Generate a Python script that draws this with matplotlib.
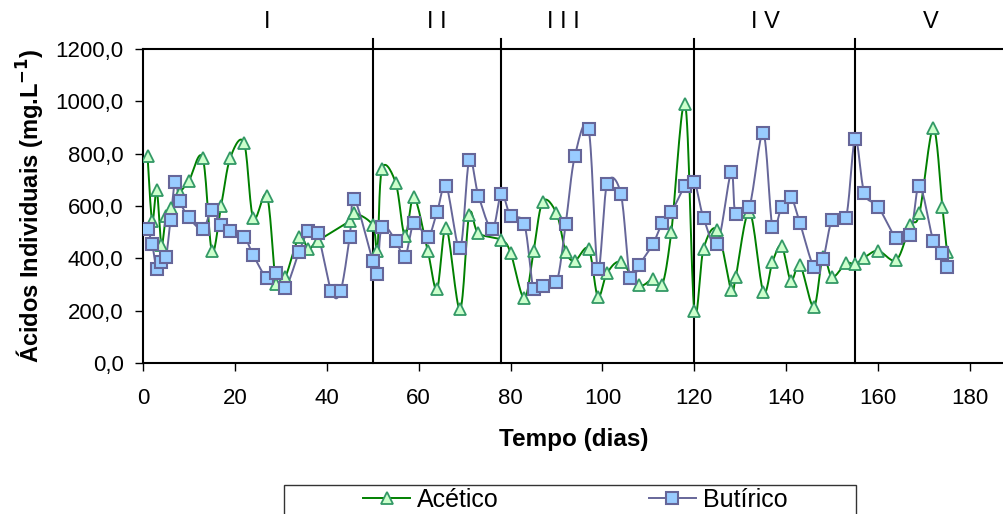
import numpy as np
import matplotlib
matplotlib.use('Agg')
import matplotlib.pyplot as plt
from matplotlib.patches import Rectangle

plt.rcParams['font.family'] = ['Liberation Sans', 'DejaVu Sans']

# dias / concentracoes (mg/L)
ac_x = [1, 2, 3, 4, 5, 6, 8, 10, 13, 15, 17, 19, 22, 24, 27, 29, 31, 34, 36, 38,
        45, 46, 50, 51, 52, 55, 57, 59, 62, 64, 66, 69, 71, 73, 78, 80, 83, 85, 87, 90,
        92, 94, 97, 99, 101, 104, 108, 111, 113, 115, 118, 120, 122, 125, 128, 129, 132, 135, 137, 139,
        141, 143, 146, 148, 150, 153, 155, 157, 160, 164, 167, 169, 172, 174, 175]
ac_y = [790, 543, 661, 451, 562, 592, 650, 696, 784, 428, 600, 784, 841, 554, 638, 302, 329, 482, 436, 466,
        543, 573, 527, 427, 741, 689, 487, 633, 427, 283, 517, 205, 566, 496, 470, 422, 247, 427, 617, 572,
        426, 391, 436, 254, 343, 386, 298, 321, 298, 502, 990, 200, 436, 508, 279, 328, 578, 273, 387, 447,
        315, 375, 215, 406, 328, 381, 378, 403, 429, 394, 527, 572, 897, 595, 423]

bu_x = [1, 2, 3, 4, 5, 6, 7, 8, 10, 13, 15, 17, 19, 22, 24, 27, 29, 31, 34, 36,
        38, 41, 43, 45, 46, 50, 51, 52, 55, 57, 59, 62, 64, 66, 69, 71, 73, 76, 78, 80,
        83, 85, 87, 90, 92, 94, 97, 99, 101, 104, 106, 108, 111, 113, 115, 118, 120, 122, 125, 128,
        129, 132, 135, 137, 139, 141, 143, 146, 148, 150, 153, 155, 157, 160, 164, 167, 169, 172, 174, 175]
bu_y = [511, 455, 359, 387, 404, 547, 692, 619, 556, 511, 585, 527, 503, 483, 412, 324, 345, 288, 426, 505,
        496, 274, 274, 483, 626, 390, 339, 521, 468, 404, 534, 483, 576, 677, 438, 776, 640, 511, 647, 562,
        531, 282, 294, 308, 531, 791, 893, 359, 683, 647, 324, 375, 455, 534, 576, 677, 693, 555, 455, 728,
        570, 598, 878, 521, 598, 633, 534, 368, 396, 547, 555, 856, 649, 598, 477, 489, 678, 468, 419, 368]

fases = ['I', 'I I', 'I I I', 'I V', 'V']
fase_lim = [50, 78, 120, 155]
fase_pos = [27, 64, 91.5, 135.5, 171.5]


def smooth(x, y, n=16):
    # curva suavizada tipo Excel (Catmull-Rom)
    p = np.column_stack([x, y]).astype(float)
    p = np.vstack([p[0], p, p[-1]])
    t = np.linspace(0, 1, n, endpoint=False)[:, None]
    out = []
    for i in range(1, len(p) - 2):
        p0, p1, p2, p3 = p[i - 1], p[i], p[i + 1], p[i + 2]
        out.append(0.5 * (2 * p1 + (p2 - p0) * t + (2 * p0 - 5 * p1 + 4 * p2 - p3) * t ** 2
                          + (3 * p1 - p0 - 3 * p2 + p3) * t ** 3))
    out.append(p[-2][None])
    s = np.vstack(out)
    return s[:, 0], s[:, 1]


fig = plt.figure(figsize=(10.04, 5.14), dpi=100)
ax = fig.add_axes([0.1424, 0.2938, 0.8576, 0.6109])

ac_c = '#008000'
bu_c = '#666699'

sx, sy = smooth(ac_x, ac_y)
ax.plot(sx, sy, color=ac_c, lw=1.4, zorder=3)
ax.plot(ac_x, ac_y, ls='none', marker='^', ms=9, mfc='#ccffcc', mec='#339966', mew=1.3, zorder=4)
sx, sy = smooth(bu_x, bu_y)
ax.plot(sx, sy, color=bu_c, lw=1.4, zorder=3)
ax.plot(bu_x, bu_y, ls='none', marker='s', ms=8.5, mfc='#99ccff', mec=bu_c, mew=1.5, zorder=5)

for xl in fase_lim:
    ax.plot([xl, xl], [0, 1239], color='black', lw=1.5, clip_on=False, zorder=2)
for lab, xp in zip(fases, fase_pos):
    ax.text(xp, 1304, lab, ha='center', va='center', fontsize=17)

ax.set_xlim(0, 187.4)
ax.set_ylim(0, 1200)
ax.set_xticks(range(0, 181, 20))
ax.set_yticks(range(0, 1201, 200))
ax.set_yticklabels([f'{v},0' for v in range(0, 1201, 200)])
ax.tick_params(labelsize=16, length=6, width=1, direction='out')
ax.tick_params(axis='x', pad=12)
ax.tick_params(axis='y', pad=8)
ax.spines['right'].set_visible(False)
for s in ['left', 'bottom', 'top']:
    ax.spines[s].set_linewidth(1.5)

ax.set_xlabel('Tempo (dias)', fontsize=17.5, fontweight='bold', labelpad=14)
ax.set_ylabel('Ácidos Individuais (mg.L$^{\\mathbf{-1}}$)', fontsize=17, fontweight='bold', labelpad=6)

# legenda (caixa desenhada a parte, cortada na borda inferior)
fig.patches.append(Rectangle((0.2829, -0.03), 0.5697, 0.0864, transform=fig.transFigure,
                             fill=False, edgecolor='#333333', lw=1))
h1, = ax.plot([], [], color=ac_c, lw=1.4, marker='^', ms=9, mfc='#ccffcc', mec='#339966', mew=1.3)
h2, = ax.plot([], [], color=bu_c, lw=1.4, marker='s', ms=8.5, mfc='#99ccff', mec=bu_c, mew=1.5)
leg = fig.legend([h1, h2], ['Acético', 'Butírico'], loc='center left', ncol=2,
                 bbox_to_anchor=(0.3616, 0.0272), fontsize=18, frameon=False,
                 handlelength=1.88, handletextpad=0.28, columnspacing=6.0,
                 borderpad=0, borderaxespad=0)

fig.savefig('out.png', dpi=100)
